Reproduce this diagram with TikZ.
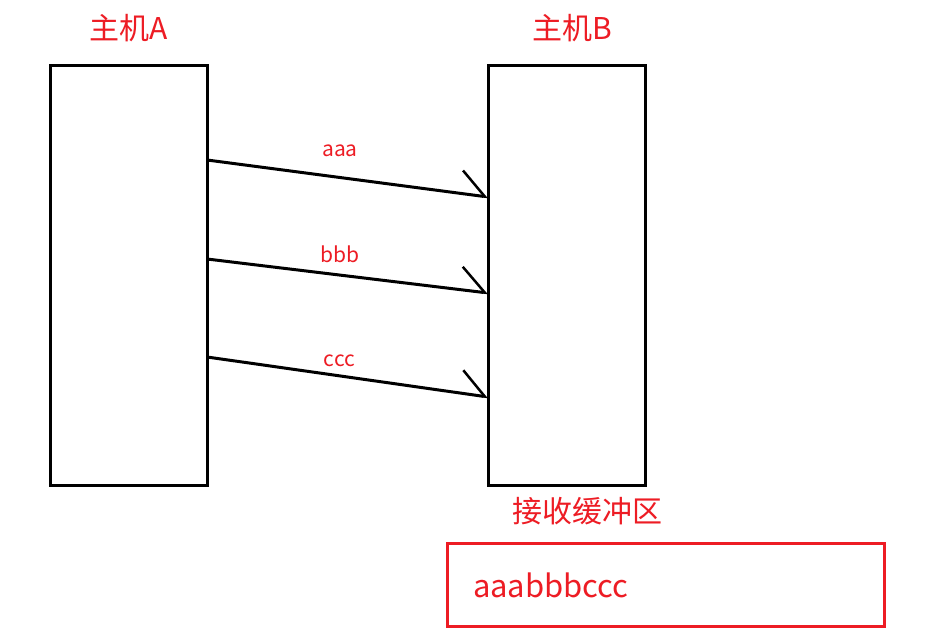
\documentclass[tikz,border=0pt]{standalone}
\usepackage{fontspec}
\newfontfamily\cjk{Noto Sans CJK SC}
\usetikzlibrary{arrows.meta, positioning}
\definecolor{paintred}{RGB}{237,28,36}
\tikzset{
  host/.style={draw, line width=3pt, minimum width=157pt, minimum height=420pt, inner sep=0pt, outer sep=0pt},
  buf/.style={draw=paintred, line width=3pt, minimum width=437pt, minimum height=83pt, inner sep=0pt, outer sep=0pt},
  hosttitle/.style={text=paintred, inner sep=0pt, outer sep=0pt, font=\cjk\fontsize{30pt}{36pt}\selectfont},
  msg/.style={text=paintred, inner sep=0pt, outer sep=0pt, font=\cjk\fontsize{21pt}{25pt}\selectfont},
  arr/.style={line width=3pt, -{Straight Barb[left, length=25pt, width=46pt, line width=2.5pt]}},
}

\begin{document}
\begin{tikzpicture}[x=1pt, y=-1pt]
    \useasboundingbox (0,0) rectangle (938,644);
    \node[host] (hostA) at (128.5,276) {};
    \node[host, right=281pt of hostA] (hostB) {};
    \node[hosttitle, above=24pt of hostA] (tA) {主机A};
    \node[hosttitle, above=24pt of hostB, xshift=5.5pt] (tB) {主机B};
    \node[hosttitle, below=11pt of hostB, xshift=21pt] (tbuf) {接收缓冲区};
    \node[buf] (buf) at (666,584.5) {};
    \node[hosttitle, anchor=base west, font=\cjk\fontsize{31pt}{37pt}\selectfont]
      (data) at ([xshift=25.5pt, yshift=-12.5pt]buf.west) {aaabbbccc};
    % three segments sent one after another
    \draw[arr] ([yshift=-94pt]hostA.north east) -- node[msg, above=22pt, xshift=-7.5pt] {aaa} ([yshift=-131pt]hostB.north west);
    \draw[arr] ([yshift=-193pt]hostA.north east) -- node[msg, above=13pt, xshift=-7.5pt] {bbb} ([yshift=-227pt]hostB.north west);
    \draw[arr] ([yshift=-291pt]hostA.north east) -- node[msg, above=10pt, xshift=-8pt] {ccc} ([yshift=-331pt]hostB.north west);
  \end{tikzpicture}
\end{document}
